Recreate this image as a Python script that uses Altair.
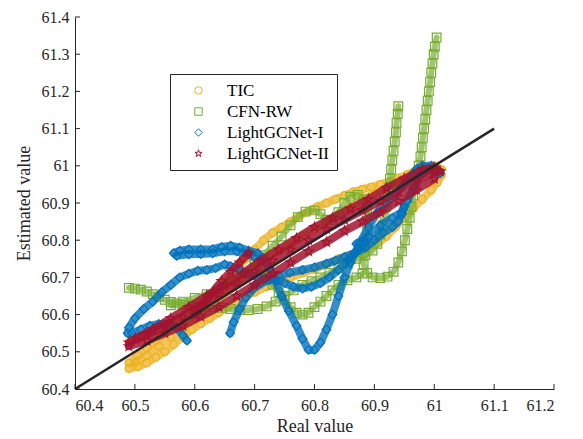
import altair as alt
import pandas as pd

SERIES = ["TIC", "CFN-RW", "LightGCNet-I", "LightGCNet-II"]
COLORS = ["#EDB120", "#77AC30", "#0072BD", "#A2142F"]
STAR = ("M0,-1L0.2245,-0.309L0.951,-0.309L0.363,0.118L0.588,0.809L0,0.382"
        "L-0.588,0.809L-0.363,0.118L-0.951,-0.309L-0.2245,-0.309Z")
SHAPES = ["circle", "square", "diamond", STAR]
TICKS_X = [60.4, 60.5, 60.6, 60.7, 60.8, 60.9, 61.0, 61.1, 61.2]
TICKS_Y = [60.4, 60.5, 60.6, 60.7, 60.8, 60.9, 61.0, 61.1, 61.2, 61.3, 61.4]
FIT_LINE = [[60.4, 60.4], [61.1, 61.1]]

TIC_UPPER = [[60.49,60.47],[60.505,60.49],[60.52,60.51],[60.535,60.53],[60.55,60.55],[60.565,60.57],
             [60.58,60.59],[60.595,60.605],[60.61,60.625],[60.625,60.645],[60.64,60.665],[60.655,60.69],
             [60.67,60.72],[60.685,60.75],[60.70,60.775],[60.715,60.80],[60.73,60.82],[60.745,60.835],
             [60.76,60.85],[60.775,60.865],[60.79,60.878],[60.805,60.89],[60.82,60.90],[60.835,60.91],
             [60.85,60.92],[60.865,60.93],[60.88,60.937],[60.895,60.943],[60.91,60.95],[60.925,60.958],
             [60.94,60.967],[60.955,60.977],[60.97,60.988],[60.985,60.997],[61.0,61.0],[61.012,60.99]]
TIC_LOWER = [[60.49,60.455],[60.505,60.46],[60.52,60.47],[60.535,60.485],[60.55,60.50],[60.565,60.52],
             [60.58,60.54],[60.595,60.56],[60.61,60.575],[60.625,60.59],[60.64,60.605],[60.655,60.62],
             [60.67,60.635],[60.685,60.65],[60.70,60.66],[60.72,60.675],[60.74,60.69],[60.76,60.70],
             [60.78,60.712],[60.80,60.722],[60.82,60.735],[60.84,60.75],[60.86,60.76],[60.875,60.768],
             [60.89,60.778],[60.905,60.79],[60.92,60.81],[60.935,60.835],[60.95,60.86],[60.965,60.885],
             [60.98,60.91],[60.995,60.935],[61.005,60.955],[61.012,60.975]]
TIC_MID = [[60.50,60.47],[60.52,60.49],[60.54,60.515],[60.56,60.54],[60.58,60.565],[60.60,60.59],
           [60.62,60.615],[60.64,60.64],[60.66,60.67],[60.68,60.70],[60.70,60.725],[60.72,60.75],
           [60.74,60.77],[60.76,60.79],[60.78,60.81],[60.80,60.83],[60.82,60.85],[60.84,60.87],
           [60.86,60.89],[60.88,60.91],[60.90,60.925],[60.92,60.94],[60.94,60.955],[60.96,60.97],
           [60.98,60.98],[61.0,60.985]]

CFN_TAIL = [[60.49,60.672],[60.50,60.67],[60.51,60.667],[60.52,60.662],[60.53,60.655],[60.54,60.648],
            [60.55,60.64],[60.56,60.634],[60.57,60.63],[60.58,60.627],[60.59,60.625],[60.60,60.623],
            [60.615,60.621],[60.63,60.62],[60.645,60.618],[60.66,60.615],[60.675,60.612],[60.69,60.612],
            [60.705,60.615],[60.72,60.622],[60.735,60.635],[60.75,60.65],[60.765,60.665],[60.78,60.68],
            [60.795,60.69],[60.81,60.70],[60.825,60.712],[60.84,60.725],[60.855,60.738],[60.87,60.75],
            [60.885,60.76],[60.897,60.772],[60.905,60.79],[60.91,60.815],[60.914,60.84],[60.917,60.865],
            [60.92,60.89],[60.922,60.915],[60.924,60.94],[60.926,60.965],[60.928,60.99],[60.93,61.015],
            [60.932,61.04],[60.934,61.065],[60.936,61.09],[60.937,61.115],[60.939,61.14],[60.94,61.16]]
CFN_MID = [[60.56,60.625],[60.58,60.635],[60.60,60.645],[60.62,60.655],[60.64,60.67],[60.66,60.69],
           [60.68,60.71],[60.70,60.735],[60.715,60.76],[60.73,60.785],[60.745,60.81],[60.76,60.84],
           [60.772,60.862],[60.785,60.877],[60.80,60.88],[60.81,60.87],[60.82,60.855],[60.83,60.855],
           [60.84,60.875],[60.85,60.90],[60.86,60.917],[60.872,60.922],[60.882,60.91],[60.888,60.885],
           [60.89,60.855],[60.888,60.825],[60.884,60.795],[60.882,60.765],[60.882,60.735],[60.888,60.712],
           [60.897,60.70],[60.91,60.698],[60.922,60.702],[60.932,60.715],[60.94,60.74],[60.946,60.77],
           [60.951,60.80],[60.955,60.83],[60.959,60.86],[60.962,60.89],[60.965,60.92],[60.968,60.95],
           [60.971,60.975],[60.974,61.0],[60.977,61.025],[60.979,61.05],[60.981,61.075],[60.983,61.10],
           [60.985,61.125],[60.987,61.15],[60.989,61.175],[60.991,61.20],[60.993,61.225],[60.995,61.25],
           [60.997,61.275],[60.999,61.30],[61.001,61.32],[61.004,61.345]]
CFN_DIP = [[60.70,60.735],[60.71,60.72],[60.72,60.70],[60.73,60.68],[60.74,60.66],[60.75,60.64],
           [60.76,60.62],[60.77,60.605],[60.78,60.60],[60.79,60.605],[60.80,60.62],[60.81,60.635],
           [60.82,60.65],[60.83,60.665],[60.84,60.68],[60.855,60.692],[60.87,60.70],[60.88,60.71]]

LGI_FLAT = [[60.565,60.765],[60.575,60.772],[60.59,60.775],[60.61,60.775],[60.63,60.776],[60.645,60.782],
            [60.66,60.785],[60.675,60.78],[60.69,60.772],[60.705,60.765],[60.715,60.75],[60.725,60.725],
            [60.735,60.69],[60.745,60.65],[60.757,60.61],[60.77,60.57],[60.78,60.535],[60.79,60.505],
            [60.80,60.505],[60.81,60.525],[60.82,60.56],[60.83,60.60],[60.84,60.65],[60.85,60.70],
            [60.86,60.74],[60.875,60.79],[60.89,60.835],[60.905,60.875],[60.92,60.90],[60.935,60.925],
            [60.95,60.95],[60.96,60.97],[60.97,60.99],[60.98,61.0],[60.995,61.0],[61.005,60.99],[61.01,60.98]]
LGI_FLAT2 = [[60.57,60.758],[60.59,60.762],[60.61,60.763],[60.63,60.765],[60.65,60.77],[60.67,60.77],
             [60.69,60.762],[60.70,60.755]]
LGI_LOOP = [[60.587,60.53],[60.58,60.545],[60.57,60.565],[60.555,60.575],[60.54,60.575],[60.525,60.57],
            [60.51,60.56],[60.495,60.55],[60.488,60.55],[60.49,60.565],[60.50,60.59],[60.515,60.615],
            [60.53,60.635],[60.545,60.66],[60.56,60.68],[60.575,60.70],[60.59,60.71],[60.605,60.718],
            [60.62,60.72],[60.635,60.725],[60.65,60.735],[60.66,60.73],[60.675,60.72],[60.69,60.71],
            [60.705,60.70],[60.72,60.695],[60.735,60.695],[60.75,60.685],[60.765,60.675],[60.78,60.67],
            [60.795,60.675],[60.81,60.685],[60.825,60.70],[60.84,60.72],[60.855,60.745],[60.87,60.77],
            [60.885,60.795]]
LGI_LOW = [[60.659,60.55],[60.665,60.58],[60.675,60.615],[60.685,60.645],[60.697,60.668],[60.71,60.683],
           [60.726,60.694],[60.74,60.705],[60.759,60.713],[60.78,60.72],[60.80,60.727],[60.82,60.737],
           [60.835,60.745],[60.85,60.755],[60.867,60.766],[60.885,60.78],[60.90,60.80],[60.915,60.82],
           [60.93,60.835],[60.94,60.85],[60.946,60.87],[60.95,60.89]]
LGI_BLOB = [[60.87,60.79],[60.89,60.81],[60.91,60.84],[60.93,60.86],[60.945,60.875],[60.955,60.905],
            [60.965,60.94],[60.975,60.97],[60.99,60.99],[61.005,60.985]]

LGII_UP = [[60.50,60.535],[60.53,60.56],[60.56,60.59],[60.59,60.62],[60.62,60.65],[60.65,60.68],
           [60.68,60.71],[60.71,60.745],[60.74,60.775],[60.77,60.805],[60.80,60.835],[60.83,60.86],
           [60.86,60.885],[60.89,60.91],[60.92,60.94],[60.95,60.965],[60.98,60.99],[61.0,60.995]]
LGII_MID = [[60.49,60.525],[60.52,60.545],[60.55,60.57],[60.58,60.595],[60.61,60.625],[60.64,60.655],
            [60.67,60.685],[60.70,60.715],[60.73,60.745],[60.76,60.775],[60.79,60.80],[60.82,60.83],
            [60.85,60.855],[60.88,60.88],[60.91,60.905],[60.94,60.93],[60.97,60.96],[61.0,60.985],
            [61.01,60.985]]
LGII_LOW = [[60.49,60.515],[60.52,60.53],[60.55,60.55],[60.58,60.57],[60.61,60.595],[60.64,60.62],
            [60.67,60.65],[60.70,60.68],[60.73,60.71],[60.76,60.74],[60.79,60.77],[60.82,60.795],
            [60.85,60.825],[60.88,60.85],[60.91,60.875],[60.94,60.905],[60.97,60.935],[61.0,60.965]]
LGII_FLAME = [[60.60,60.60],[60.615,60.63],[60.63,60.66],[60.645,60.69],[60.66,60.715],[60.675,60.74],
              [60.69,60.765]]

SEGMENTS = [
    ("TIC", "tic_upper", TIC_UPPER), ("TIC", "tic_lower", TIC_LOWER), ("TIC", "tic_mid", TIC_MID),
    ("CFN-RW", "cfn_tail", CFN_TAIL), ("CFN-RW", "cfn_mid", CFN_MID), ("CFN-RW", "cfn_dip", CFN_DIP),
    ("LightGCNet-I", "lgi_flat", LGI_FLAT), ("LightGCNet-I", "lgi_flat2", LGI_FLAT2),
    ("LightGCNet-I", "lgi_loop", LGI_LOOP), ("LightGCNet-I", "lgi_low", LGI_LOW),
    ("LightGCNet-I", "lgi_blob", LGI_BLOB),
    ("LightGCNet-II", "lgii_up", LGII_UP), ("LightGCNet-II", "lgii_mid", LGII_MID),
    ("LightGCNet-II", "lgii_low", LGII_LOW), ("LightGCNet-II", "lgii_flame", LGII_FLAME),
]

rows = []
for s, seg, pts in SEGMENTS:
    for i, (x, y) in enumerate(pts):
        rows.append({"series": s, "seg": seg, "i": i, "x": x, "y": y})
df = pd.DataFrame(rows)

FONT = "Liberation Serif"
W, H = 479, 372
xs = alt.Scale(domain=[60.4, 61.2], nice=False, zero=False)
ys = alt.Scale(domain=[60.4, 61.4], nice=False, zero=False)
X_AXIS = alt.Axis(values=TICKS_X, format="~g", title="Real value", grid=False, ticks=False,
                  labelPadding=8, titlePadding=4, labelOverlap=False, labelFont=FONT, titleFont=FONT)
Y_AXIS = alt.Axis(values=TICKS_Y, format="~g", title="Estimated value", grid=False, ticks=False,
                  labelPadding=6, titlePadding=8, labelOverlap=False, labelFont=FONT, titleFont=FONT)
X = alt.X("x:Q", scale=xs, axis=X_AXIS)
Y = alt.Y("y:Q", scale=ys, axis=Y_AXIS)
color = alt.Color("series:N", scale=alt.Scale(domain=SERIES, range=COLORS),
                  legend=alt.Legend(title=None, orient="none", legendX=95, legendY=57))
shape = alt.Shape("series:N", scale=alt.Scale(domain=SERIES, range=SHAPES), legend=alt.Legend(title=None))

SIZES = [60, 75, 75, 90]
LINE_W = [8, 6, 8, 8]
LINE_OP = [0.75, 0.7, 0.8, 0.85]
layers = []
for s, c, sz, lw, lo in zip(SERIES, COLORS, SIZES, LINE_W, LINE_OP):
    base = alt.Chart(df[df.series == s])
    layers.append(base.mark_line(strokeWidth=lw, opacity=lo, color=c, strokeCap="round",
                                 strokeJoin="round").encode(x=X, y=Y, detail="seg:N", order="i:Q"))
    layers.append(base.mark_point(filled=False, strokeWidth=1.2, size=sz, opacity=1).encode(
        x=X, y=Y, color=color, shape=shape))

fit = alt.Chart(pd.DataFrame(FIT_LINE, columns=["x", "y"])).mark_line(
    color="#262626", strokeWidth=2.5).encode(x=X, y=Y)
tx = alt.Chart(pd.DataFrame({"x": TICKS_X})).mark_rule(color="#262626", strokeWidth=1).encode(
    x=X, y=alt.value(H), y2=alt.value(H - 5))
ty = alt.Chart(pd.DataFrame({"y": TICKS_Y})).mark_rule(color="#262626", strokeWidth=1).encode(
    y=Y, x=alt.value(0), x2=alt.value(5))

chart = alt.layer(*layers, fit, tx, ty).properties(
    width=W, height=H,
    autosize=alt.AutoSizeParams(type="none"),
    padding={"left": 67, "top": 9, "right": 20, "bottom": 50},
).configure_view(stroke=None).configure_axis(
    labelFont=FONT, titleFont=FONT, labelFontSize=16, titleFontSize=18, titleFontWeight="normal",
    labelColor="#262626", titleColor="#262626", domainColor="#262626", domainWidth=1,
).configure_legend(
    labelFont=FONT, labelFontSize=17, labelColor="#000000", strokeColor="#262626", fillColor="white",
    padding=8, rowPadding=3, symbolSize=55, symbolStrokeWidth=1, symbolOffset=12, labelOffset=20,
    cornerRadius=0,
)

chart.save("out.html", embed_options={"renderer": "svg", "actions": False})
